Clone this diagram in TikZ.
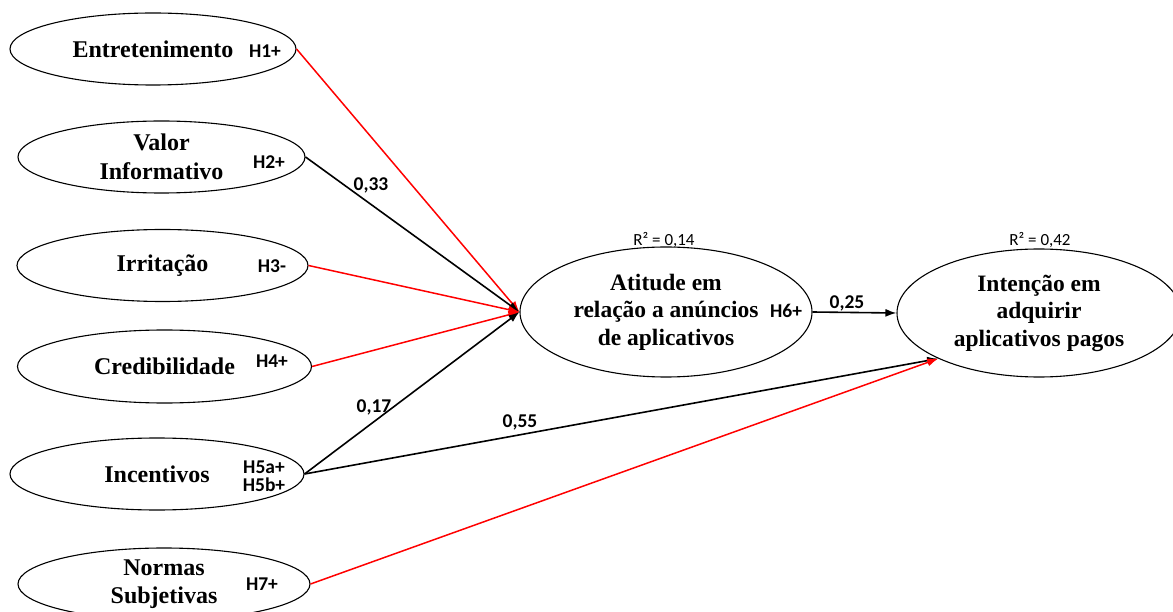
\documentclass[tikz,border=0pt]{standalone}
\usepackage{fontspec}
\setmainfont{Liberation Serif}
\newfontfamily\calibri{Carlito}
\usetikzlibrary{shapes.geometric,arrows.meta}
\begin{document}
\begin{tikzpicture}[x=1pt,y=-1pt,
  latent/.style={ellipse, draw, line width=1.1pt, inner sep=0pt, align=center,
    font=\fontsize{24}{28.5}\selectfont\bfseries},
  bigvar/.style={latent, font=\fontsize{23.5}{27.5}\selectfont\bfseries},
  hyp/.style={inner sep=0pt, align=center, font=\calibri\bfseries\fontsize{19.5}{19.5}\selectfont},
  coef/.style={inner sep=0pt, font=\calibri\bfseries\fontsize{19.5}{21}\selectfont},
  rsq/.style={inner sep=0pt, font=\calibri\fontsize{17}{19}\selectfont},
  conn/.style={-{Latex[length=11pt,width=8pt]}, line width=1.6pt},
  redconn/.style={conn, red, line width=1.5pt}
]
\useasboundingbox (0,0) rectangle (1173,612);
\clip (0,0) rectangle (1173,612);

% exogenous constructs
\node[latent, minimum width=286, minimum height=72] (ent) at (153,49) {Entretenimento};
\node[latent, minimum width=287, minimum height=72] (val) at (161.5,157) {Valor\\Informativo};
\node[latent, minimum width=291, minimum height=72] (irr) at (162.5,265.5) {Irritação};
\node[latent, minimum width=294, minimum height=73] (cre) at (164.5,366.5) {Credibilidade};
\node[latent, minimum width=294, minimum height=72] (inc) at (157,474) {Incentivos};
\node[latent, minimum width=292, minimum height=72] (nor) at (164,584) {Normas\\Subjetivas};

% endogenous constructs
\node[bigvar, minimum width=292, minimum height=130] (ati) at (666,312) {Atitude em\\relação a anúncios\\de aplicativos};
\node[bigvar, minimum width=284, minimum height=128] (int) at (1039,313) {Intenção em\\adquirir\\aplicativos pagos};

% hypothesis labels
\node[hyp] (h1) at (265,51) {H1+};
\node[hyp] (h2) at (269,162) {H2+};
\node[hyp] (h3) at (272,266) {H3-};
\node[hyp] (h4) at (272,361) {H4+};
\node[hyp] (h5) at (264,476) {H5a+\\[-1pt]H5b+};
\node[hyp] (h7) at (262,584) {H7+};
\node[hyp] (h6) at (786,311) {H6+};

% R squared
\node[rsq] (r1) at (664,240) {R² = 0,14};
\node[rsq] (r2) at (1040,240) {R² = 0,42};

% paths
\draw[redconn] (ent.east) -- (ati.west);
\draw[conn] (val.east) -- (ati.west);
\draw[redconn] (irr.east) -- (ati.west);
\draw[redconn] (cre.east) -- (ati.west);
\draw[conn] (inc.east) -- (ati.west);
\draw[conn] (inc.east) -- (int.south west);
\draw[redconn] (nor.east) -- (int.south west);
\draw[conn] (ati.east) -- (int.west);

% coefficients
\node[coef] (c33) at (371,185) {0,33};
\node[coef] (c17) at (374,407) {0,17};
\node[coef] (c55) at (520,422) {0,55};
\node[coef] (c25) at (847,303) {0,25};
\end{tikzpicture}
\end{document}
